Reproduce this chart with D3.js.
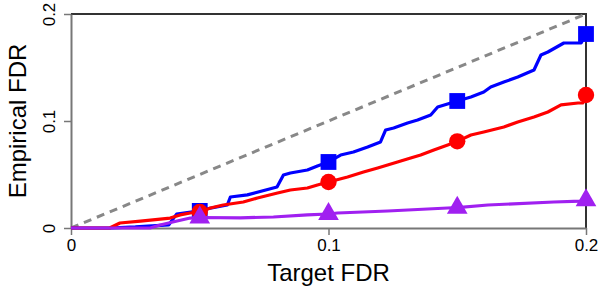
<!DOCTYPE html>
<html>
<head>
<meta charset="utf-8">
<script src="https://cdn.jsdelivr.net/npm/d3@7"></script>
<style>
  body { margin: 0; background: #fff; }
  text { font-family: "Liberation Sans", Arial, sans-serif; }
</style>
</head>
<body>
<div id="chart"></div>
<script>
// target FDR vs empirical FDR
var blueLine = [[0, 0], [0.015, 0], [0.025, 0.001], [0.038, 0.003], [0.041, 0.013], [0.05, 0.016],
  [0.053, 0.018], [0.0607, 0.0215], [0.0619, 0.029], [0.0685, 0.031], [0.080, 0.0383], [0.0825, 0.0495],
  [0.0852, 0.0514], [0.0918, 0.0542], [0.0957, 0.058], [0.1, 0.0617], [0.1047, 0.0682], [0.1097, 0.071],
  [0.1152, 0.0757], [0.1202, 0.0804], [0.1222, 0.0916], [0.1253, 0.0935], [0.1307, 0.0981], [0.1346, 0.1009],
  [0.1397, 0.1056], [0.1424, 0.1131], [0.1475, 0.1168], [0.15, 0.1187], [0.1553, 0.1224], [0.1603, 0.1271],
  [0.163, 0.1318], [0.1681, 0.1364], [0.1735, 0.1411], [0.1798, 0.1477], [0.1825, 0.1617], [0.1852, 0.1645],
  [0.1914, 0.1729], [0.1981, 0.1729], [0.2, 0.1813]]
var redLine = [[0, 0], [0.015, 0], [0.019, 0.0047], [0.027, 0.0065], [0.0385, 0.0093], [0.0424, 0.0122],
  [0.0463, 0.014], [0.05, 0.015], [0.0541, 0.0187], [0.0591, 0.0215], [0.0669, 0.0243], [0.0724, 0.028],
  [0.0802, 0.0327], [0.0852, 0.0355], [0.0918, 0.0374], [0.0957, 0.0402], [0.1, 0.043], [0.1074, 0.0477],
  [0.1136, 0.0523], [0.1191, 0.0561], [0.1268, 0.0617], [0.1319, 0.0654], [0.1358, 0.0682], [0.1409, 0.0729],
  [0.1463, 0.0776], [0.15, 0.081], [0.1553, 0.0869], [0.1603, 0.0897], [0.1681, 0.0944], [0.1735, 0.0991],
  [0.1798, 0.1037], [0.1852, 0.1084], [0.1903, 0.115], [0.1969, 0.1168], [0.1988, 0.1168], [0.2, 0.1243]]
var purpleLine = [[0, 0], [0.0307, 0], [0.0346, 0.0028], [0.0412, 0.0065], [0.0463, 0.0093], [0.05, 0.0098],
  [0.0658, 0.0095], [0.0786, 0.0103], [0.0918, 0.0122], [0.1, 0.0131], [0.1035, 0.014], [0.123, 0.0159],
  [0.1463, 0.0187], [0.15, 0.019], [0.1619, 0.0215], [0.1875, 0.0243], [0.198, 0.0252], [0.2, 0.026]]

var markerX = [0.05, 0.1, 0.15, 0.2]
var blueMarks = [0.016, 0.0617, 0.1187, 0.1813]
var redMarks = [0.015, 0.043, 0.081, 0.1243]
var purpleMarks = [0.0098, 0.0131, 0.019, 0.026]

var xTicks = [0, 0.1, 0.2]
var yTicks = [0, 0.1, 0.2]

var w = 600
var h = 300
var mLeft = 71, mRight = 586, mTop = 14, mBottom = 228

var svg = d3.select('#chart')
  .append('svg')
  .attr('width', w)
  .attr('height', h)

var x = d3.scaleLinear().domain([0, 0.2]).range([mLeft, mRight])
var y = d3.scaleLinear().domain([0, 0.2]).range([mBottom, mTop])

// frame: top and right dark
svg.append('path')
  .attr('d', 'M' + mLeft + ',' + mTop + 'H' + mRight + 'V' + mBottom)
  .attr('fill', 'none')
  .attr('stroke', '#333')
  .attr('stroke-width', 2)

var xAxis = svg.append('g')
  .attr('transform', 'translate(0,' + mBottom + ')')
  .call(d3.axisBottom(x).tickValues(xTicks).tickFormat(d3.format('')).tickSize(7).tickSizeOuter(0))
var yAxis = svg.append('g')
  .attr('transform', 'translate(' + mLeft + ',0)')
  .call(d3.axisLeft(y).tickValues(yTicks).tickFormat(d3.format('')).tickSize(7).tickSizeOuter(0))

for (let ax of [xAxis, yAxis]) {
  ax.select('.domain').attr('stroke', '#777').attr('stroke-width', 2)
  ax.selectAll('.tick line').attr('stroke', '#777').attr('stroke-width', 1.5)
  ax.selectAll('.tick text').attr('fill', '#000').style('font-size', '17px')
    .style('font-family', '"Liberation Sans", Arial, sans-serif')
}
xAxis.selectAll('.tick text').attr('y', 11)
yAxis.selectAll('.tick text')
  .attr('x', null).attr('dy', null)
  .attr('text-anchor', 'middle')
  .attr('transform', 'translate(-16,0) rotate(-90)')

// diagonal
svg.append('line')
  .attr('x1', x(0)).attr('y1', y(0))
  .attr('x2', x(0.2)).attr('y2', y(0.2))
  .attr('stroke', '#888')
  .attr('stroke-width', 3)
  .attr('stroke-dasharray', '8 6')

var line = d3.line()
  .x(function (d) { return x(d[0]) })
  .y(function (d) { return y(d[1]) })

var series = [
  { data: blueLine, marks: blueMarks, color: '#0000ff', shape: d3.symbolSquare, size: 250 },
  { data: redLine, marks: redMarks, color: '#ff0000', shape: d3.symbolCircle, size: 210 },
  { data: purpleLine, marks: purpleMarks, color: '#a020f0', shape: d3.symbolTriangle, size: 185 }
]

for (let s of series) {
  svg.append('path')
    .attr('d', line(s.data))
    .attr('fill', 'none')
    .attr('stroke', s.color)
    .attr('stroke-width', 3.2)
    .attr('stroke-linejoin', 'round')
  svg.selectAll(null)
    .data(s.marks)
    .enter()
    .append('path')
    .attr('d', d3.symbol().type(s.shape).size(s.size))
    .attr('transform', function (d, i) { return 'translate(' + x(markerX[i]) + ',' + y(d) + ')' })
    .attr('fill', s.color)
}

svg.append('text')
  .attr('x', (mLeft + mRight) / 2)
  .attr('y', 281)
  .attr('text-anchor', 'middle')
  .style('font-size', '24px')
  .text('Target FDR')

svg.append('text')
  .attr('transform', 'translate(26,' + (mTop + mBottom) / 2 + ') rotate(-90)')
  .attr('text-anchor', 'middle')
  .style('font-size', '24px')
  .text('Empirical FDR')
</script>
</body>
</html>
